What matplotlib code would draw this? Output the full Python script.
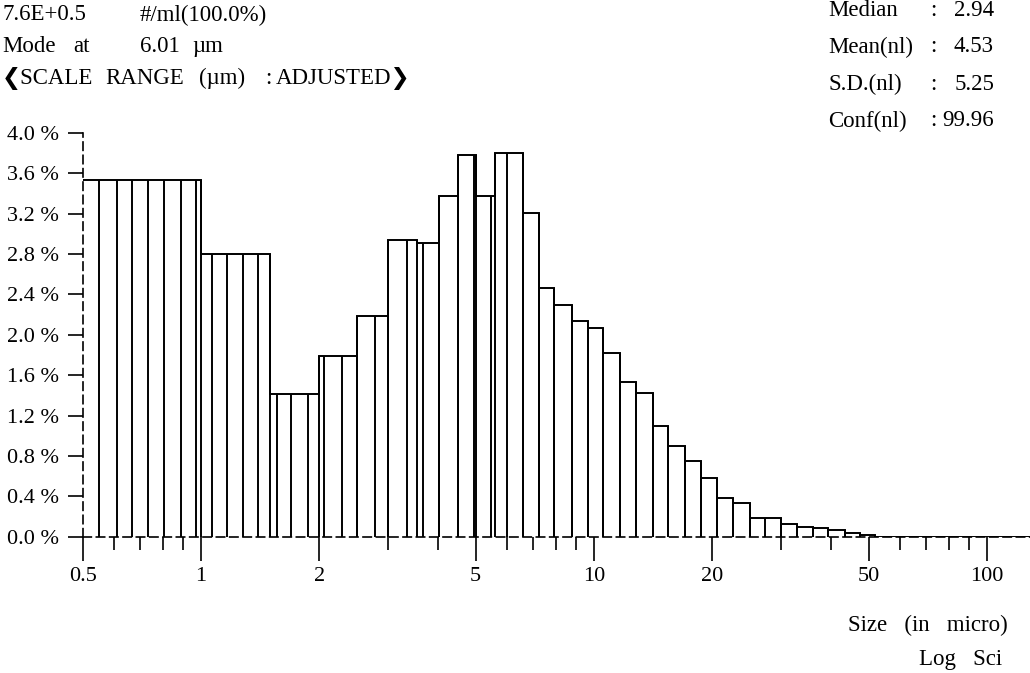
import matplotlib.pyplot as plt
from matplotlib.ticker import NullFormatter
import numpy as np

plt.rcParams['font.family'] = ['Liberation Serif', 'DejaVu Sans']

# envelope of the histogram (size in um, percent)
step_edges = [0.5, 1.0, 1.5, 2.0, 2.5, 3.0, 3.55, 4.04, 4.5, 5.0, 5.6, 6.59, 7.26, 7.91,
              8.77, 9.67, 10.56, 11.65, 12.79, 14.15, 15.46, 17.05, 18.72, 20.6, 22.6,
              24.9, 30.0, 32.8, 36.1, 39.5, 43.5, 47.5, 51.9, 130.0]
step_pct = [3.53, 2.80, 1.41, 1.79, 2.19, 2.94, 2.91, 3.38, 3.78, 3.38, 3.80, 3.21, 2.46,
            2.30, 2.14, 2.07, 1.82, 1.53, 1.42, 1.10, 0.90, 0.75, 0.58, 0.38, 0.33, 0.19,
            0.13, 0.10, 0.09, 0.07, 0.04, 0.02, 0.0]

# channel separators drawn inside the bars
sep_lines = [0.551, 0.610, 0.666, 0.734, 0.805, 0.888, 0.970, 1.065, 1.163, 1.277, 1.399,
             1.558, 1.694, 1.875, 2.06, 2.28, 2.5, 2.77, 3.0, 3.34, 3.68, 4.04, 4.5, 4.95,
             5.46, 6.0, 6.59, 7.26, 7.91, 8.77, 9.67, 10.56, 11.65, 12.79, 14.15, 15.46,
             17.05, 18.72, 20.6, 22.6, 24.9, 27.2, 30.0, 32.8, 36.1, 39.5, 43.5, 47.5]

x_major = [0.5, 1, 2, 5, 10, 20, 50, 100]
x_labels = ['0.5', '1', '2', '5', '10', '20', '50', '100']
x_minor = [0.6, 0.7, 0.8, 0.9, 3, 4, 6, 7, 8, 9, 30, 40, 60, 70, 80, 90]
y_ticks = [0.0, 0.4, 0.8, 1.2, 1.6, 2.0, 2.4, 2.8, 3.2, 3.6, 4.0]
y_labels = ['%.1f %%' % v for v in y_ticks]

# header words, with their left pixel position
head_rows = [
    [(2, '7.6E+0.5'), (140, '#/ml(100.0%)')],
    [(2, 'Mode'), (73, 'at'), (140, '6.01'), (192, 'µm')],
    [(2, '❮SCALE'), (105, 'RANGE'), (199, '(µm)'), (265, ':'), (276, 'ADJUSTED❯')],
]
stat_names = ['Median', 'Mean(nl)', 'S.D.(nl)', 'Conf(nl)']
stat_vals = ['2.94', '4.53', '5.25', '99.96']

W, H = 1030, 673
fs = 16.5
fig = plt.figure(figsize=(W / 100, H / 100), dpi=100)
ax = fig.add_axes([82.7 / W, (H - 536.7) / H, (W - 82.7) / W, (536.7 - 133) / H])
ax.set_xscale('log')
ax.set_xlim(0.5, 128.7)
ax.set_ylim(0, 4.0)

edges = np.array(step_edges)
pct = np.array(step_pct)
lw = 1.4
ax.stairs(pct, edges, baseline=None, color='black', lw=lw, zorder=3)
ax.vlines(edges[1:-1], 0, np.maximum(pct[:-1], pct[1:]), color='black', lw=lw, zorder=3)
idx = np.searchsorted(edges, sep_lines, side='right') - 1
ax.vlines(sep_lines, 0, pct[idx], color='black', lw=lw, zorder=3)

for s in ['top', 'right']:
    ax.spines[s].set_visible(False)
for s in ['left', 'bottom']:
    ax.spines[s].set_linestyle((0, (5, 3)))
    ax.spines[s].set_linewidth(1.2)

ax.set_xticks(x_major)
ax.set_xticklabels(x_labels)
ax.set_xticks(x_minor, minor=True)
ax.xaxis.set_minor_formatter(NullFormatter())
ax.set_yticks(y_ticks)
ax.set_yticklabels(y_labels)
ax.tick_params(axis='x', which='major', length=17, width=1.2, pad=5, labelsize=16)
ax.tick_params(axis='x', which='minor', length=9.5, width=1.2)
ax.tick_params(axis='y', length=11, width=1.2, pad=6, labelsize=16)

for i, row in enumerate(head_rows):
    for x, t in row:
        fig.text(x / W, 1 - (15 + 31.5 * i) / H, t, fontsize=fs, va='center', ha='left')
for i, (n, v) in enumerate(zip(stat_names, stat_vals)):
    y = 1 - (10 + 37 * i) / H
    fig.text(828 / W, y, n, fontsize=fs, va='center', ha='left')
    fig.text(933 / W, y, ':', fontsize=fs, va='center', ha='center')
    fig.text(994 / W, y, v, fontsize=fs, va='center', ha='right')

fig.text(1008 / W, 1 - 625 / H, 'Size   (in   micro)', fontsize=fs, va='center', ha='right')
fig.text(1002 / W, 1 - 660 / H, 'Log   Sci', fontsize=fs, va='center', ha='right')

fig.savefig('out.png', dpi=100)
